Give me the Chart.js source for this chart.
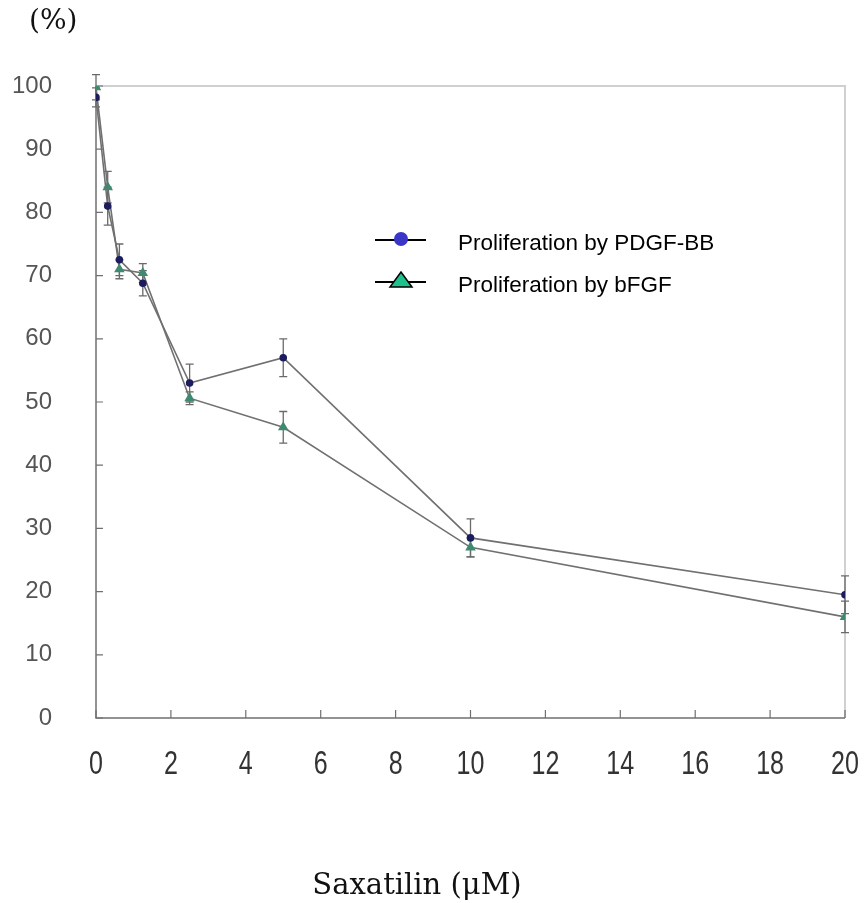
<!DOCTYPE html>
<html>
<head>
<meta charset="utf-8">
<script src="https://cdn.jsdelivr.net/npm/chart.js@4/dist/chart.umd.min.js"></script>
<style>
  html, body { margin: 0; padding: 0; background: #fff; }
  #wrap { width: 865px; height: 903px; position: relative; }
</style>
</head>
<body>
<div id="wrap"><canvas id="c" width="865" height="903"></canvas></div>
<script>
// ---- data ----
const concentrations = [0, 0.3125, 0.625, 1.25, 2.5, 5, 10, 20];
const pdgfValues = [98.2, 81, 72.5, 68.8, 53, 57, 28.5, 19.5];
const pdgfErrors = [1.5, 3, 2.5, 2, 3, 3, 3, 3];
const bfgfValues = [99.8, 84, 71, 70.4, 50.6, 46, 27, 16];
const bfgfErrors = [2, 2.5, 1.5, 1.5, 1, 2.5, 1.5, 2.5];
const xTickValues = [0, 2, 4, 6, 8, 10, 12, 14, 16, 18, 20];
const yTickValues = [0, 10, 20, 30, 40, 50, 60, 70, 80, 90, 100];
const seriesLabels = ['Proliferation by PDGF-BB', 'Proliferation by bFGF'];
const yUnitLabel = '(%)';
const xAxisLabel = 'Saxatilin (μM)';

const toPoints = (vals) => vals.map((v, i) => ({x: concentrations[i], y: v}));

const errorBarPlugin = {
  id: 'errorBars',
  beforeDatasetsDraw(chart) {
    const {ctx, scales: {x, y}} = chart;
    const errs = [pdgfErrors, bfgfErrors];
    ctx.save();
    ctx.strokeStyle = '#6a6a6a';
    ctx.lineWidth = 1.3;
    chart.data.datasets.forEach((ds, di) => {
      ds.data.forEach((p, i) => {
        const e = errs[di][i];
        const px = x.getPixelForValue(p.x);
        const yt = y.getPixelForValue(p.y + e);
        const yb = y.getPixelForValue(p.y - e);
        ctx.beginPath();
        ctx.moveTo(px, yt); ctx.lineTo(px, yb);
        ctx.moveTo(px - 4, yt); ctx.lineTo(px + 4, yt);
        ctx.moveTo(px - 4, yb); ctx.lineTo(px + 4, yb);
        ctx.stroke();
      });
    });
    ctx.restore();
  }
};

const framePlugin = {
  id: 'frame',
  beforeDatasetsDraw(chart) {
    const {ctx, chartArea: a, scales: {x, y}} = chart;
    ctx.save();
    ctx.strokeStyle = '#d0d0d0';
    ctx.lineWidth = 2;
    ctx.beginPath();
    ctx.moveTo(a.left, a.top); ctx.lineTo(a.right, a.top); ctx.lineTo(a.right, a.bottom);
    ctx.stroke();
    ctx.strokeStyle = '#707070';
    ctx.lineWidth = 1.5;
    ctx.beginPath();
    ctx.moveTo(a.left, a.top); ctx.lineTo(a.left, a.bottom); ctx.lineTo(a.right, a.bottom);
    ctx.stroke();
    ctx.lineWidth = 1.2;
    ctx.beginPath();
    yTickValues.forEach(v => {
      const py = y.getPixelForValue(v);
      ctx.moveTo(a.left, py); ctx.lineTo(a.left + 7, py);
    });
    xTickValues.forEach(v => {
      const px = x.getPixelForValue(v);
      ctx.moveTo(px, a.bottom); ctx.lineTo(px, a.bottom - 8);
    });
    ctx.stroke();
    ctx.restore();
  }
};

const textPlugin = {
  id: 'texts',
  afterDraw(chart) {
    const {ctx, scales: {x}} = chart;
    ctx.save();
    // condensed x tick labels
    ctx.fillStyle = '#333';
    ctx.textBaseline = 'middle';
    ctx.textAlign = 'center';
    ctx.font = '33px "Liberation Sans", Arial, sans-serif';
    xTickValues.forEach(v => {
      const px = x.getPixelForValue(v);
      ctx.save();
      ctx.translate(px, 765);
      ctx.scale(0.76, 1);
      ctx.fillText(String(v), 0, 0);
      ctx.restore();
    });

    ctx.fillStyle = '#111';
    ctx.font = '28px "DejaVu Serif", "Liberation Serif", serif';
    ctx.textAlign = 'left';
    ctx.fillText(yUnitLabel, 29, 22);
    ctx.textAlign = 'center';
    ctx.font = '29px "DejaVu Serif", "Liberation Serif", serif';
    ctx.fillText(xAxisLabel, 417, 886);

    // legend
    const rows = [240, 282];
    ctx.font = '22.5px "Liberation Sans", Arial, sans-serif';
    ctx.textAlign = 'left';
    rows.forEach((ry, i) => {
      ctx.strokeStyle = '#000';
      ctx.lineWidth = 2;
      ctx.beginPath();
      ctx.moveTo(375, ry); ctx.lineTo(426, ry);
      ctx.stroke();
      if (i === 0) {
        ctx.fillStyle = '#3a36c8';
        ctx.beginPath();
        ctx.arc(401, ry - 1, 7, 0, Math.PI * 2);
        ctx.fill();
      } else {
        ctx.fillStyle = '#20c08e';
        ctx.strokeStyle = '#000';
        ctx.lineWidth = 1.5;
        ctx.beginPath();
        ctx.moveTo(401, ry - 10); ctx.lineTo(412, ry + 5); ctx.lineTo(390, ry + 5); ctx.closePath();
        ctx.fill(); ctx.stroke();
      }
      ctx.fillStyle = '#000';
      ctx.fillText(seriesLabels[i], 458, ry + 4);
    });
    ctx.restore();
  }
};

new Chart(document.getElementById('c'), {
  type: 'line',
  data: {
    datasets: [
      {
        label: seriesLabels[0],
        data: toPoints(pdgfValues),
        borderColor: '#707070',
        borderWidth: 1.6,
        pointStyle: 'circle',
        pointRadius: 3,
        pointBackgroundColor: '#1c1c5e',
        pointBorderColor: '#1c1c5e',
        tension: 0
      },
      {
        label: seriesLabels[1],
        data: toPoints(bfgfValues),
        borderColor: '#707070',
        borderWidth: 1.6,
        pointStyle: 'triangle',
        pointRadius: 4.5,
        pointBackgroundColor: '#3f8a70',
        pointBorderColor: '#3f8a70',
        tension: 0
      }
    ]
  },
  options: {
    responsive: false,
    animation: false,
    events: [],
    layout: { padding: { top: 86, right: 20, left: 0, bottom: 0 } },
    plugins: { legend: { display: false }, tooltip: { enabled: false } },
    scales: {
      x: {
        type: 'linear',
        min: 0, max: 20,
        afterFit(s) { s.height = 185; s.paddingLeft = 0; s.paddingRight = 0; },
        afterBuildTicks(s) { s.ticks = xTickValues.map(v => ({value: v})); },
        grid: { display: false, drawTicks: false },
        border: { display: false },
        ticks: { display: false }
      },
      y: {
        min: 0, max: 100,
        afterFit(s) { s.width = 96; s.paddingTop = 0; s.paddingBottom = 0; },
        afterBuildTicks(s) { s.ticks = yTickValues.map(v => ({value: v})); },
        grid: { display: false, drawTicks: false },
        border: { display: false },
        ticks: {
          padding: 44,
          color: '#555',
          font: { family: '"Liberation Sans", Arial, sans-serif', size: 24 },
          autoSkip: false
        }
      }
    }
  },
  plugins: [framePlugin, errorBarPlugin, textPlugin]
});
</script>
</body>
</html>
